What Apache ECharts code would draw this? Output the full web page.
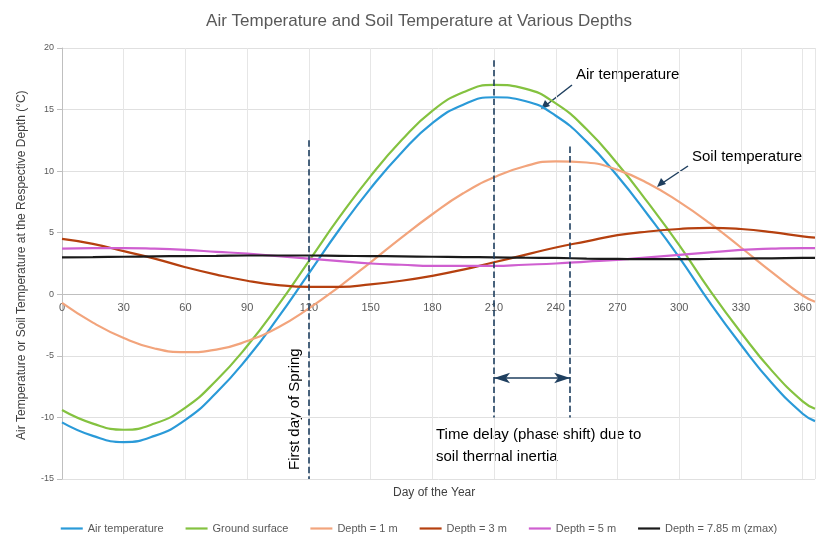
<!DOCTYPE html>
<html>
<head>
<meta charset="utf-8">
<script src="https://cdn.jsdelivr.net/npm/echarts@6/dist/echarts.min.js"></script>
<style>html,body{margin:0;background:#fff}#c{width:838px;height:547px}</style>
</head>
<body>
<div id="c"></div>
<script>
var days = [0, 15, 30, 45, 60, 75, 90, 105, 120, 135, 150, 165, 180, 195, 210, 225, 240, 255, 270, 285, 300, 315, 330, 345, 360, 366];
var airTemp = [-10.4, -11.5, -12, -11.5, -10.2, -8, -5.2, -1.9, 1.7, 5.3, 8.6, 11.5, 13.9, 15.4, 16, 15.7, 14.5, 12.4, 9.6, 6.4, 3, -0.7, -4.1, -7.2, -9.7, -10.3];
var groundSurface = [-9.4, -10.5, -11, -10.5, -9.2, -7, -4.2, -0.9, 2.7, 6.3, 9.6, 12.5, 14.9, 16.4, 17, 16.7, 15.5, 13.4, 10.6, 7.4, 4, 0.3, -3.1, -6.2, -8.7, -9.3];
var depth1 = [-0.7, -2.3, -3.55, -4.4, -4.7, -4.5, -3.8, -2.7, -1.15, 0.65, 2.6, 4.6, 6.5, 8.2, 9.5, 10.4, 10.8, 10.7, 10.1, 9, 7.5, 5.75, 3.8, 1.8, -0.1, -0.6];
var depth3 = [4.5, 4.1, 3.5, 2.9, 2.2, 1.6, 1.1, 0.75, 0.6, 0.6, 0.8, 1.1, 1.5, 2, 2.6, 3.2, 3.8, 4.3, 4.8, 5.1, 5.3, 5.4, 5.3, 5.05, 4.7, 4.6];
var depth5 = [3.7, 3.75, 3.75, 3.7, 3.6, 3.45, 3.3, 3.1, 2.9, 2.7, 2.5, 2.4, 2.3, 2.3, 2.3, 2.4, 2.5, 2.65, 2.8, 3, 3.2, 3.4, 3.6, 3.7, 3.75, 3.75];
var depth785 = [3, 3.02, 3.05, 3.08, 3.1, 3.12, 3.15, 3.15, 3.15, 3.12, 3.1, 3.08, 3.05, 3.02, 3, 2.97, 2.95, 2.9, 2.87, 2.85, 2.85, 2.87, 2.9, 2.92, 2.95, 2.95];

function pts(v) { return days.map(function (d, i) { return [d, v[i]]; }); }

var chart = echarts.init(document.getElementById('c'));
var dash = { type: 'dashed', color: '#1f3f5f', width: 1.6 };
function line(name, color, vals, extra) {
    var s = { name: name, type: 'line', smooth: true, showSymbol: false,
        lineStyle: { color: color, width: 2.2 }, itemStyle: { color: color }, data: pts(vals) };
    if (extra) s.markLine = extra;
    return s;
}
chart.setOption({
    animation: false,
    title: { text: 'Air Temperature and Soil Temperature at Various Depths', left: 'center', top: 8,
        textStyle: { fontSize: 17, fontWeight: 'normal', color: '#595959', fontFamily: 'Liberation Sans' } },
    grid: { left: 62, right: 23, top: 48, bottom: 68 },
    legend: { bottom: 8, icon: 'path://M0,0H20V2H0Z', itemWidth: 22, itemHeight: 3, itemGap: 22,
        textStyle: { fontSize: 11, color: '#595959' } },
    xAxis: { type: 'value', min: 0, max: 366, interval: 30, offset: -185,
        axisLine: { onZero: false, lineStyle: { color: '#bfbfbf' } }, axisTick: { show: false },
        axisLabel: { color: '#595959', fontSize: 11, showMaxLabel: false },
        splitLine: { lineStyle: { color: '#e6e6e6' } } },
    yAxis: { type: 'value', min: -15, max: 20, interval: 5,
        axisLine: { show: true, lineStyle: { color: '#bfbfbf' } },
        axisLabel: { color: '#595959', fontSize: 9 },
        splitLine: { lineStyle: { color: '#e0e0e0' } } },
    graphic: [
        { type: 'text', left: 393, top: 487, style: { text: 'Day of the Year', fontSize: 12, fill: '#404040' } },
        { type: 'text', x: 16, y: 440, rotation: Math.PI / 2,
            style: { text: 'Air Temperature or Soil Temperature at the Respective Depth (°C)', fontSize: 12, fill: '#404040' } },
        { type: 'text', x: 287, y: 470, rotation: Math.PI / 2,
            style: { text: 'First day of Spring', fontSize: 15, fill: '#000' } },
        { type: 'text', left: 436, top: 424,
            style: { text: 'Time delay (phase shift) due to\nsoil thermal inertia', fontSize: 15, lineHeight: 22, fill: '#000' } },
        { type: 'text', left: 576, top: 67, style: { text: 'Air temperature', fontSize: 15, fill: '#000' } },
        { type: 'text', left: 692, top: 149, style: { text: 'Soil temperature', fontSize: 15, fill: '#000' } },
        { type: 'line', shape: { x1: 572, y1: 85, x2: 545, y2: 106 }, style: { stroke: '#1f3f5f', lineWidth: 1.5 } },
        { type: 'polygon', shape: { points: [[541, 109], [545, 100], [550, 106]] }, style: { fill: '#1f3f5f' } },
        { type: 'line', shape: { x1: 688, y1: 166, x2: 661, y2: 184 }, style: { stroke: '#1f3f5f', lineWidth: 1.5 } },
        { type: 'polygon', shape: { points: [[657, 187], [661, 178], [666, 184]] }, style: { fill: '#1f3f5f' } }
    ],
    series: [
        line('Air temperature', '#2a9ad8', airTemp, {
            silent: true, symbol: 'none', label: { show: false }, lineStyle: dash,
            data: [
                [{ coord: [120, 12.5] }, { coord: [120, -15] }],
                [{ coord: [210, 19] }, { coord: [210, -10] }],
                [{ coord: [247, 12] }, { coord: [247, -10] }],
                [{ coord: [210, -6.8], symbol: 'arrow', lineStyle: { type: 'solid' } },
                 { coord: [247, -6.8], symbol: 'arrow' }]
            ]
        }),
        line('Ground surface', '#84c240', groundSurface),
        line('Depth = 1 m', '#f2a47c', depth1),
        line('Depth = 3 m', '#b5400f', depth3),
        line('Depth = 5 m', '#cf5fd0', depth5),
        line('Depth = 7.85 m (zmax)', '#1a1a1a', depth785)
    ]
});
</script>
</body>
</html>
